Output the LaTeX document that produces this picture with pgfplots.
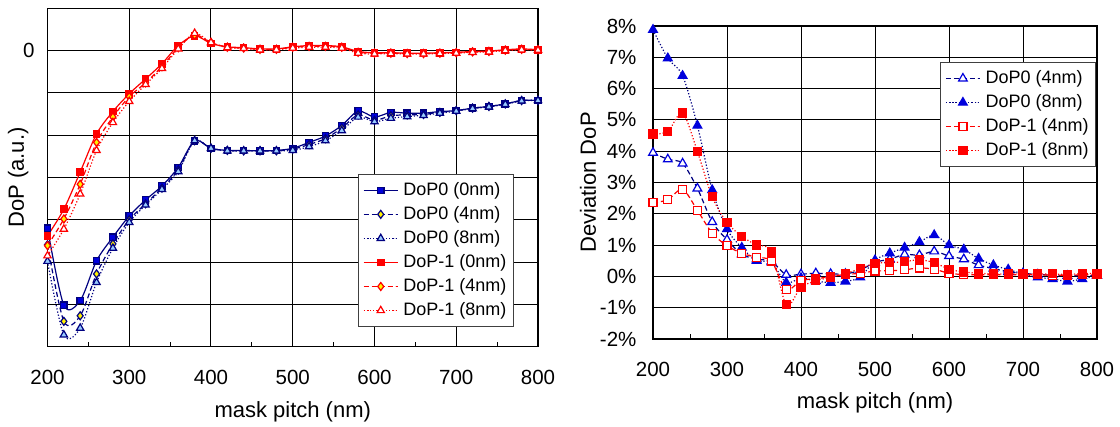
\documentclass[border=0pt]{standalone}
\usepackage{pgfplots}
\pgfplotsset{compat=1.18}
\usepackage{fontspec}
\setmainfont{Liberation Sans}

\definecolor{navyline}{RGB}{0,0,128}
\definecolor{markblue}{RGB}{0,0,220}
\definecolor{lcyan}{RGB}{153,204,255}

\pgfplotsset{
  dopaxis/.style={
    scale only axis,
    xmin=200, xmax=800,
    xtick={200,300,...,800},
    xticklabels={200,300,400,500,600,700,800},
    minor x tick num=1,
    grid=major,
    major grid style={black, line width=0.5pt},
    axis line style={black, line width=0.6pt},
    tick align=inside,
    major tick length=0pt,
    minor tick length=2.5pt,
    minor tick style={black, line width=0.5pt},
    xtick pos=bottom, ytick pos=left,
    tick label style={font=\fontsize{10.25}{12}\selectfont},
    xticklabel style={yshift=-8pt},
    label style={font=\fontsize{11}{13}\selectfont},
    legend style={font=\fontsize{9}{10}\selectfont, draw=black!75,
      line width=0.5pt, nodes={inner sep=1pt}, row sep=2pt, column sep=1.5pt,
      inner xsep=2.5pt, inner ysep=3pt},
    legend cell align=left,
    every axis plot/.append style={line width=0.6pt, smooth, tension=0.5},
  },
  dsh/.style={dash pattern=on 2.5pt off 1.5pt},
  dtt/.style={dash pattern=on 0.6pt off 1pt},
}

\begin{document}
\begin{tikzpicture}
\useasboundingbox (0pt,0pt) rectangle (560pt,213.5pt);

% left: DoP
\begin{axis}[dopaxis,
  at={(23.75pt,40.15pt)}, anchor=south west,
  width=245.25pt, height=169.2pt,
  ymin=-7, ymax=1,
  ytick={-7,-6,-5,-4,-3,-2,-1,0,1},
  yticklabels={{},{},{},{},{},{},{},0,{}},
  yticklabel style={xshift=-3pt},
  xlabel={mask pitch (nm)},
  xlabel style={at={(axis description cs:0.5,-0.192)}, anchor=center},
  ylabel={DoP (a.u.)},
  ylabel style={at={(axis description cs:-0.060,0.5)}, anchor=center},
  legend style={at={(0.951,0.058)}, anchor=south east},
]
\addplot[navyline, solid, mark=square*, mark size=1.6pt,
  mark options={fill=markblue, draw=navyline, solid}] coordinates {
(200,-4.20) (220,-6.02) (240,-5.91) (260,-4.97) (280,-4.41) (300,-3.91)
(320,-3.53) (340,-3.20) (360,-2.76) (380,-2.13) (400,-2.31) (420,-2.36)
(440,-2.36) (460,-2.37) (480,-2.36) (500,-2.31) (520,-2.17) (540,-2.02)
(560,-1.77) (580,-1.43) (600,-1.57) (620,-1.46) (640,-1.48) (660,-1.48)
(680,-1.44) (700,-1.42) (720,-1.36) (740,-1.32) (760,-1.26) (780,-1.18) (800,-1.18)};
\addlegendentry{DoP0 (0nm)}
\addplot[navyline, dsh, mark=diamond*, mark size=2pt,
  mark options={fill=yellow, draw=navyline, solid}] coordinates {
(200,-4.59) (220,-6.40) (240,-6.27) (260,-5.28) (280,-4.57) (300,-4.00)
(320,-3.62) (340,-3.25) (360,-2.82) (380,-2.13) (400,-2.31) (420,-2.36)
(440,-2.37) (460,-2.37) (480,-2.37) (500,-2.33) (520,-2.22) (540,-2.08)
(560,-1.83) (580,-1.52) (600,-1.65) (620,-1.54) (640,-1.52) (660,-1.51)
(680,-1.46) (700,-1.42) (720,-1.36) (740,-1.32) (760,-1.26) (780,-1.18) (800,-1.18)};
\addlegendentry{DoP0 (4nm)}
\addplot[navyline, dtt, mark=triangle*, mark size=2.1pt,
  mark options={fill=lcyan, draw=navyline, solid}] coordinates {
(200,-4.98) (220,-6.72) (240,-6.56) (260,-5.48) (280,-4.67) (300,-4.06)
(320,-3.65) (340,-3.28) (360,-2.86) (380,-2.13) (400,-2.31) (420,-2.37)
(440,-2.37) (460,-2.37) (480,-2.37) (500,-2.36) (520,-2.27) (540,-2.13)
(560,-1.89) (580,-1.57) (600,-1.68) (620,-1.60) (640,-1.56) (660,-1.53)
(680,-1.48) (700,-1.43) (720,-1.37) (740,-1.33) (760,-1.27) (780,-1.19) (800,-1.18)};
\addlegendentry{DoP0 (8nm)}
\addplot[red, solid, mark=square*, mark size=1.6pt,
  mark options={fill=red, draw=red, solid}] coordinates {
(200,-4.38) (220,-3.75) (240,-2.87) (260,-1.97) (280,-1.44) (300,-1.02)
(320,-0.67) (340,-0.31) (360,0.12) (380,0.35) (400,0.17) (420,0.09)
(440,0.07) (460,0.04) (480,0.04) (500,0.09) (520,0.12) (540,0.12)
(560,0.09) (580,-0.02) (600,-0.05) (620,-0.05) (640,-0.06) (660,-0.06)
(680,-0.05) (700,-0.04) (720,-0.02) (740,-0.01) (760,0.02) (780,0.04) (800,0.02)};
\addlegendentry{DoP-1 (0nm)}
\addplot[red, dsh, mark=diamond*, mark size=2pt,
  mark options={fill=yellow, draw=red, solid}] coordinates {
(200,-4.61) (220,-3.98) (240,-3.16) (260,-2.17) (280,-1.57) (300,-1.09)
(320,-0.76) (340,-0.38) (360,0.07) (380,0.37) (400,0.19) (420,0.08)
(440,0.06) (460,0.03) (480,0.03) (500,0.08) (520,0.10) (540,0.10)
(560,0.08) (580,-0.04) (600,-0.06) (620,-0.06) (640,-0.07) (660,-0.07)
(680,-0.06) (700,-0.05) (720,-0.03) (740,-0.02) (760,0.01) (780,0.03) (800,0.02)};
\addlegendentry{DoP-1 (4nm)}
\addplot[red, dtt, mark=triangle*, mark size=2.1pt,
  mark options={fill=white, draw=red, solid}] coordinates {
(200,-4.85) (220,-4.22) (240,-3.39) (260,-2.36) (280,-1.70) (300,-1.20)
(320,-0.80) (340,-0.42) (360,0.04) (380,0.41) (400,0.19) (420,0.07)
(440,0.05) (460,0.02) (480,0.02) (500,0.06) (520,0.08) (540,0.08)
(560,0.06) (580,-0.06) (600,-0.08) (620,-0.07) (640,-0.08) (660,-0.08)
(680,-0.07) (700,-0.06) (720,-0.04) (740,-0.03) (760,0.00) (780,0.02) (800,0.01)};
\addlegendentry{DoP-1 (8nm)}
\end{axis}

% right: deviation
\begin{axis}[dopaxis,
  at={(326.5pt,44pt)}, anchor=south west,
  width=222pt, height=156.5pt,
  ymin=-2, ymax=8,
  ytick={-2,-1,0,1,2,3,4,5,6,7,8},
  yticklabels={-2\%,-1\%,0\%,1\%,2\%,3\%,4\%,5\%,6\%,7\%,8\%},
  yticklabel style={xshift=-4.75pt},
  xlabel={mask pitch (nm)},
  xlabel style={at={(axis description cs:0.5,-0.2045)}, anchor=center},
  ylabel={Deviation DoP},
  ylabel style={at={(axis description cs:-0.1464,0.5)}, anchor=center},
  legend style={at={(0.998,0.885)}, anchor=north east},
]
\addplot[navyline, dsh, mark=triangle*, mark size=2.5pt,
  mark options={fill=white, draw=markblue, solid}] coordinates {
(200,3.95) (220,3.74) (240,3.61) (260,2.81) (280,1.74) (300,1.17)
(320,0.71) (340,0.55) (360,0.48) (380,0.05) (400,0.07) (420,0.10)
(440,0.08) (460,0.08) (480,0.20) (500,0.45) (520,0.55) (540,0.70)
(560,0.68) (580,0.80) (600,0.65) (620,0.55) (640,0.36) (660,0.25)
(680,0.15) (700,0.10) (720,0.06) (740,0.04) (760,0.02) (780,0.02) (800,0.02)};
\addlegendentry{DoP0 (4nm)}
\addplot[navyline, dtt, mark=triangle*, mark size=2.5pt,
  mark options={fill=markblue, draw=markblue, solid}] coordinates {
(200,7.88) (220,6.97) (240,6.41) (260,4.82) (280,2.76) (300,1.51)
(320,0.92) (340,0.50) (360,0.45) (380,-0.20) (400,-0.05) (420,-0.15)
(440,-0.20) (460,-0.16) (480,-0.03) (500,0.52) (520,0.74) (540,0.92)
(560,1.10) (580,1.32) (600,1.00) (620,0.86) (640,0.57) (660,0.36)
(680,0.22) (700,0.08) (720,-0.03) (740,-0.08) (760,-0.16) (780,-0.08) (800,0.02)};
\addlegendentry{DoP0 (8nm)}
\addplot[red, dsh, mark=square*, mark size=2pt,
  mark options={fill=white, draw=red, solid}] coordinates {
(200,2.35) (220,2.45) (240,2.78) (260,2.11) (280,1.38) (300,0.98)
(320,0.74) (340,0.61) (360,0.49) (380,-0.42) (400,-0.13) (420,-0.08)
(440,0.00) (460,0.06) (480,0.10) (500,0.17) (520,0.18) (540,0.21)
(560,0.27) (580,0.23) (600,0.10) (620,0.06) (640,0.05) (660,0.05)
(680,0.05) (700,0.05) (720,0.05) (740,0.04) (760,0.04) (780,0.05) (800,0.05)};
\addlegendentry{DoP-1 (4nm)}
\addplot[red, dtt, mark=square*, mark size=2pt,
  mark options={fill=red, draw=red, solid}] coordinates {
(200,4.55) (220,4.63) (240,5.22) (260,3.99) (280,2.54) (300,1.72)
(320,1.28) (340,1.00) (360,0.80) (380,-0.91) (400,-0.35) (420,-0.14)
(440,-0.03) (460,0.09) (480,0.25) (500,0.42) (520,0.44) (540,0.47)
(560,0.53) (580,0.44) (600,0.23) (620,0.14) (640,0.10) (660,0.08)
(680,0.08) (700,0.08) (720,0.08) (740,0.08) (760,0.06) (780,0.09) (800,0.09)};
\addlegendentry{DoP-1 (8nm)}
\end{axis}
\end{tikzpicture}
\end{document}
